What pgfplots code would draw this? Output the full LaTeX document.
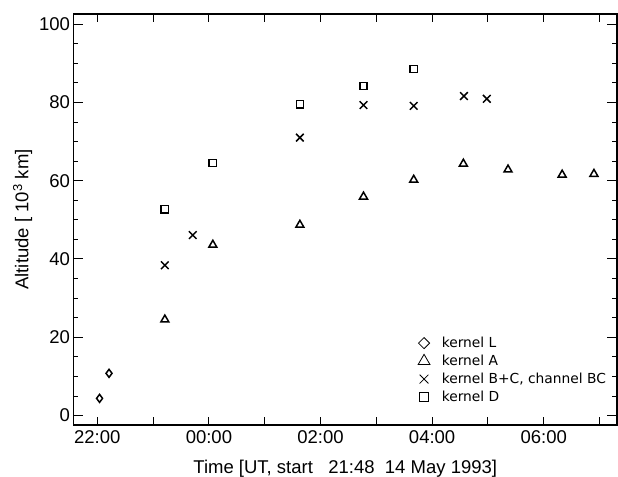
\documentclass[border=0pt]{standalone}
\usepackage{pgfplots}
\pgfplotsset{compat=1.18}
\usepackage{fontspec}
\setmainfont{Liberation Sans}
\newfontfamily\legfont{DejaVu Sans}
\usetikzlibrary{calc}
\begin{document}
\begin{tikzpicture}
\begin{axis}[name=ax, scale only axis, width=543.5pt, height=411pt,
  xmin=21.573, xmax=31.313, ymin=-2.4, ymax=102.56,
  axis line style={line width=1.2pt},
  xtick={22,...,31}, xticklabels={22:00,,00:00,,02:00,,04:00,,06:00},
  ytick={0,20,...,100}, minor y tick num=3,
  tick align=inside, xtick pos=both, ytick pos=both,
  major tick style={line width=1pt, black}, minor tick style={line width=0.8pt, black},
  major tick length=10pt, minor tick length=5pt,
  x tick style={/pgfplots/major tick length=8pt},
  /pgf/number format/assume math mode=true,
  tick label style={font=\fontsize{18.5}{20}\selectfont},
  x tick label style={yshift=-2pt},
  label style={font=\fontsize{18.5}{20}\selectfont},
  xlabel={Time [UT, start\ \ \ 21:48\ \ 14 May 1993]},
  xlabel style={yshift=-10pt},
  ylabel={Altitude [ 10\textsuperscript{3} km]},
  legend style={at={(0.6283,0.224)}, anchor=north west, draw=none, fill=none,
    font=\legfont\fontsize{13.8}{16}\selectfont, row sep=2pt},
  legend cell align=left,
  legend image code/.code={\path (0pt,0pt) (0.15cm+15.5pt,0pt); \draw[#1] plot coordinates {(0.15cm,0cm)};},
]
\addplot[only marks, mark=diamond, mark size=4pt, mark options={line width=1.5pt}, forget plot]
 coordinates {(22.04,4.4) (22.21,10.8)};
\addplot[only marks, mark=triangle, mark size=4.6pt, mark options={line width=1.5pt}, forget plot]
 coordinates {(23.21,24.5) (24.07,43.6) (25.63,48.7) (26.77,55.9) (27.67,60.2) (28.56,64.3) (29.36,62.8) (30.33,61.5) (30.90,61.7)};
\addplot[only marks, mark=x, mark size=5.4pt, mark options={line width=1.5pt}, forget plot]
 coordinates {(23.21,38.4) (23.71,46.1) (25.63,71.0) (26.77,79.3) (27.67,79.1) (28.57,81.6) (28.98,80.9)};
\addplot[only marks, mark=square, mark size=3.6pt, mark options={line width=1.5pt}, forget plot]
 coordinates {(23.21,52.7) (24.07,64.5) (25.63,79.5) (26.77,84.2) (27.67,88.5)};
\addlegendimage{only marks, mark=square, mark size=3.9pt, mark options={line width=0.8pt, rotate=45}}
\addlegendentry{kernel L}
\addlegendimage{only marks, mark=triangle, mark size=6.8pt, mark options={line width=0.8pt}}
\addlegendentry{kernel A}
\addlegendimage{only marks, mark=x, mark size=6.2pt, mark options={line width=0.8pt}}
\addlegendentry{kernel B+C, channel BC}
\addlegendimage{only marks, mark=square, mark size=4.6pt, mark options={line width=0.8pt}}
\addlegendentry{kernel D}
\end{axis}
\pgfresetboundingbox
\path ($(ax.south west)+(-73.5pt,-52pt)$) rectangle ($(ax.north east)+(1pt,14pt)$);
\end{tikzpicture}
\end{document}
